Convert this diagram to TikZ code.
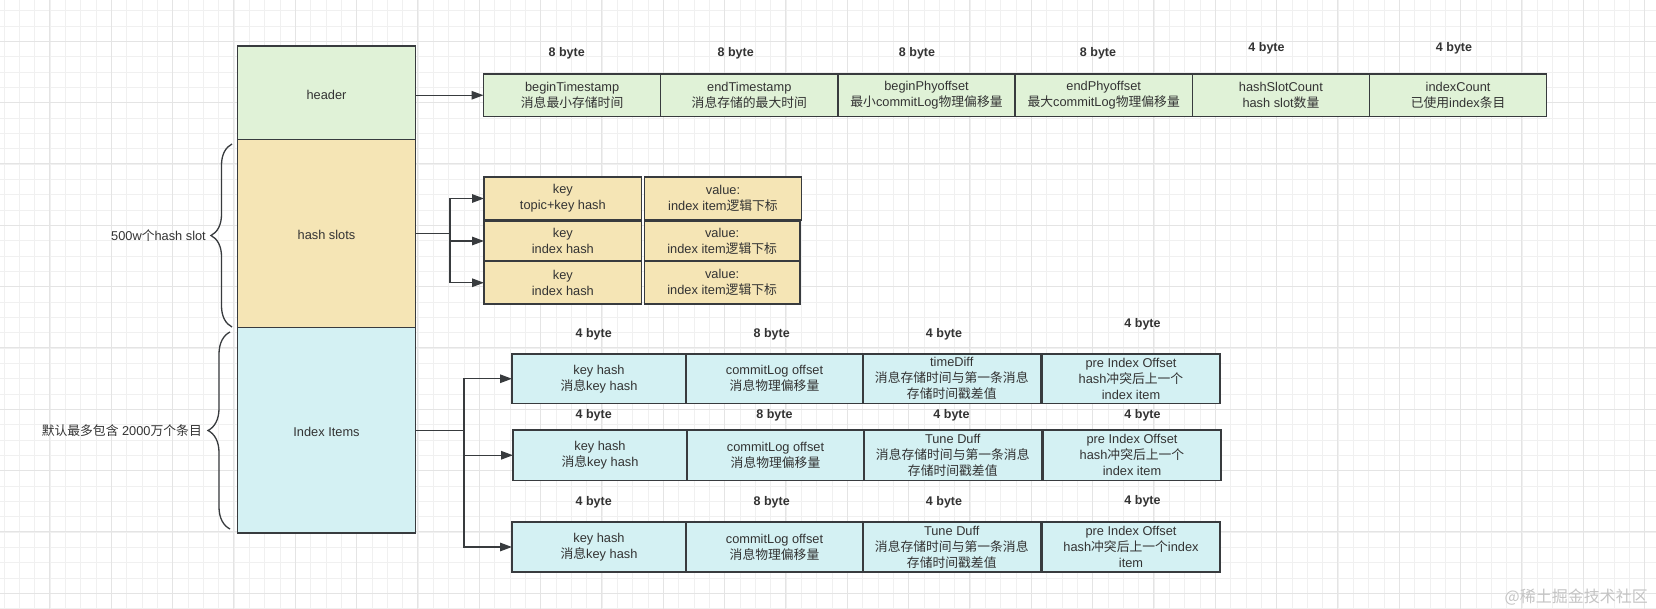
\documentclass[tikz,border=0pt]{standalone}
\usepackage{fontspec}
\setmainfont{Liberation Sans}
\newfontfamily\cjk{Noto Sans CJK SC}
\usetikzlibrary{arrows.meta,decorations.pathreplacing}
\definecolor{linec}{HTML}{383B3E}
\definecolor{textc}{HTML}{333333}
\definecolor{hgreen}{HTML}{E0F2D7}
\definecolor{hyellow}{HTML}{F5E5B5}
\definecolor{hcyan}{HTML}{D4F1F3}
\definecolor{gridminor}{HTML}{F0F0F0}
\definecolor{gridmajor}{HTML}{E4E4E4}
\definecolor{wmark}{HTML}{C4C4C4}
\newcommand\zhtxt[1]{{\cjk #1}}
\newcommand\lowertxt[2]{\raisebox{-#1}[\height][\depth]{#2}}
\newcommand\fsn{\fontsize{12.8}{16}\selectfont}
\newcommand\fsb{\fontsize{12.5}{15}\selectfont\bfseries}
\begin{document}
\begin{tikzpicture}[x=1pt,y=-1pt,
  cell/.style={draw=linec, line width=1.4pt, inner sep=0pt, outer sep=0pt, anchor=north west, align=center, text=textc, font=\fsn},
  bytelbl/.style={inner sep=0pt, text=textc, font=\fsb},
  sidelbl/.style={inner sep=0pt, anchor=east, text=textc, font=\fsn},
  conn/.style={draw=linec, line width=1.4pt},
  arr/.style={conn, -{Triangle[length=12pt,width=8.5pt]}},
  bracedeco/.style={draw=linec, line width=1.3pt, decorate},
  minorln/.style={draw=gridminor, line width=1pt},
  majorln/.style={draw=gridmajor, line width=1pt}
  ]
\useasboundingbox (0,0) rectangle (1656,609);
\fill[white] (0,0) rectangle (1656,609);
% grid
\foreach \i in {0,...,107} \draw[minorln] ({4+15.3333*\i},0) -- ({4+15.3333*\i},609);
\foreach \i in {0,...,39} \draw[minorln] (0,{10.7+15.3333*\i}) -- (1656,{10.7+15.3333*\i});
\foreach \i in {0,...,26} \draw[majorln] ({49.7+61.3333*\i},0) -- ({49.7+61.3333*\i},609);
\foreach \i in {0,...,9} \draw[majorln] (0,{41.3+61.3333*\i}) -- (1656,{41.3+61.3333*\i});

% main column
\node[cell, fill=hgreen, minimum width=178pt, minimum height=93.5pt] (header) at (237.5,46) {\lowertxt{2.5pt}{header}};
\node[cell, fill=hyellow, minimum width=178pt, minimum height=188pt] (hash) at (237.5,139.5) {\lowertxt{1pt}{hash slots}};
\node[cell, fill=hcyan, minimum width=178pt, minimum height=205.5pt] (idx) at (237.5,327.5) {\lowertxt{2pt}{Index Items}};

% braces and side labels
\draw[bracedeco, decoration={brace, amplitude=21pt}] ([xshift=-5.5pt,yshift=0.5pt]hash.south west) -- ([xshift=-5.5pt,yshift=-4.5pt]hash.north west);
\draw[bracedeco, decoration={brace, amplitude=22pt}] ([xshift=-7.5pt,yshift=4pt]idx.south west) -- ([xshift=-7.5pt,yshift=-4.5pt]idx.north west);
\node[sidelbl] (lblhash) at (206,235.7) {500w\zhtxt{个}hash slot};
\node[sidelbl] (lblidx) at (202,431) {\zhtxt{默认最多包含} 2000\zhtxt{万个条目}};

% header fields
\node[cell, fill=hgreen, minimum width=177.2pt, minimum height=42.5pt] (h1) at (483.5,74) {beginTimestamp\\\zhtxt{消息最小存储时间}};
\node[cell, fill=hgreen, minimum width=177.2pt, minimum height=42.5pt] (h2) at (660.7,74) {endTimestamp\\\zhtxt{消息存储的最大时间}};
\node[cell, fill=hgreen, minimum width=177.2pt, minimum height=42.5pt] (h3) at (837.9,74) {beginPhyoffset\\\zhtxt{最小}commitLog\zhtxt{物理偏移量}};
\node[cell, fill=hgreen, minimum width=177.2pt, minimum height=42.5pt] (h4) at (1015.1,74) {endPhyoffset\\\zhtxt{最大}commitLog\zhtxt{物理偏移量}};
\node[cell, fill=hgreen, minimum width=177.2pt, minimum height=42.5pt] (h5) at (1192.3,74) {hashSlotCount\\hash slot\zhtxt{数量}};
\node[cell, fill=hgreen, minimum width=177.2pt, minimum height=42.5pt] (h6) at (1369.5,74) {indexCount\\\zhtxt{已使用}index\zhtxt{条目}};
\node[bytelbl] (bh1) at (566.7,53.3) {8 byte};
\node[bytelbl] (bh2) at (735.7,53.3) {8 byte};
\node[bytelbl] (bh3) at (917,53) {8 byte};
\node[bytelbl] (bh4) at (1098,53) {8 byte};
\node[bytelbl] (bh5) at (1266.5,48.6) {4 byte};
\node[bytelbl] (bh6) at (1454,48.6) {4 byte};

% hash slot entries
\node[cell, fill=hyellow, minimum width=157.7pt, minimum height=43pt] (k1) at (484,177) {key\\topic+key hash};
\node[cell, fill=hyellow, minimum width=157.4pt, minimum height=43pt] (v1) at (644.3,177) {value:\\index item\zhtxt{逻辑下标}};
\node[cell, fill=hyellow, minimum width=157.7pt, minimum height=40pt] (k2) at (484,221) {key\\index hash};
\node[cell, fill=hyellow, minimum width=155.7pt, minimum height=40pt] (v2) at (644.3,221) {value:\\index item\zhtxt{逻辑下标}};
\node[cell, fill=hyellow, minimum width=157.7pt, minimum height=42.5pt] (k3) at (484,261.5) {key\\index hash};
\node[cell, fill=hyellow, minimum width=155.7pt, minimum height=42.5pt] (v3) at (644.3,261.5) {value:\\index item\zhtxt{逻辑下标}};

% index item rows
\node[cell, fill=hcyan, minimum width=174pt, minimum height=49.5pt] (r1a) at (512,354) {key hash\\\zhtxt{消息}key hash};
\node[cell, fill=hcyan, minimum width=177pt, minimum height=49.5pt] (r1b) at (686,354) {commitLog offset\\\zhtxt{消息物理偏移量}};
\node[cell, fill=hcyan, minimum width=177.5pt, minimum height=49.5pt] (r1c) at (863,354) {timeDiff\\\zhtxt{消息存储时间与第一条消息}\\\zhtxt{存储时间戳差值}};
\node[cell, fill=hcyan, minimum width=178pt, minimum height=49.5pt] (r1d) at (1042,354) {pre Index Offset\\hash\zhtxt{冲突后上一个}\\index item};

\node[cell, fill=hcyan, minimum width=174pt, minimum height=50.5pt] (r2a) at (513,430) {key hash\\\zhtxt{消息}key hash};
\node[cell, fill=hcyan, minimum width=177pt, minimum height=50.5pt] (r2b) at (687,430) {commitLog offset\\\zhtxt{消息物理偏移量}};
\node[cell, fill=hcyan, minimum width=177.5pt, minimum height=50.5pt] (r2c) at (864,430) {Tune Duff\\\zhtxt{消息存储时间与第一条消息}\\\zhtxt{存储时间戳差值}};
\node[cell, fill=hcyan, minimum width=178pt, minimum height=50.5pt] (r2d) at (1043,430) {pre Index Offset\\hash\zhtxt{冲突后上一个}\\index item};

\node[cell, fill=hcyan, minimum width=174pt, minimum height=50pt] (r3a) at (512,522) {key hash\\\zhtxt{消息}key hash};
\node[cell, fill=hcyan, minimum width=177pt, minimum height=50pt] (r3b) at (686,522) {commitLog offset\\\zhtxt{消息物理偏移量}};
\node[cell, fill=hcyan, minimum width=177.5pt, minimum height=50pt] (r3c) at (863,522) {Tune Duff\\\zhtxt{消息存储时间与第一条消息}\\\zhtxt{存储时间戳差值}};
\node[cell, fill=hcyan, minimum width=178pt, minimum height=50pt] (r3d) at (1042,522) {pre Index Offset\\hash\zhtxt{冲突后上一个}index\\item};

\node[bytelbl] (b1a) at (593.7,334) {4 byte};
\node[bytelbl] (b1b) at (771.7,334) {8 byte};
\node[bytelbl] (b1c) at (944,334) {4 byte};
\node[bytelbl] (b1d) at (1142.5,324) {4 byte};
\node[bytelbl] (b2a) at (593.7,415) {4 byte};
\node[bytelbl] (b2b) at (774.5,415) {8 byte};
\node[bytelbl] (b2c) at (951.5,415) {4 byte};
\node[bytelbl] (b2d) at (1142.5,415) {4 byte};
\node[bytelbl] (b3a) at (593.7,502) {4 byte};
\node[bytelbl] (b3b) at (771.7,502) {8 byte};
\node[bytelbl] (b3c) at (944,502) {4 byte};
\node[bytelbl] (b3d) at (1142.5,501) {4 byte};

% connectors
\draw[arr] (h1.west -| header.east) -- (h1.west);
\coordinate (jh) at (450,233.5);
\draw[conn] (hash.east) -- (jh);
\draw[arr] (jh) |- (k1.west);
\draw[arr] (jh) |- (k2.west);
\draw[arr] (jh) |- (k3.west);
\coordinate (ji) at (464,430.25);
\draw[conn] (idx.east) -- (ji);
\draw[arr] (ji) |- (r1a.west);
\draw[arr] (ji) |- (r2a.west);
\draw[arr] (ji) |- (r3a.west);

% watermark
\node[anchor=east, inner sep=0pt, text=wmark, font=\cjk\fontsize{16}{18}\selectfont] (wm) at (1648,597) {@稀土掘金技术社区};
\end{tikzpicture}
\end{document}
